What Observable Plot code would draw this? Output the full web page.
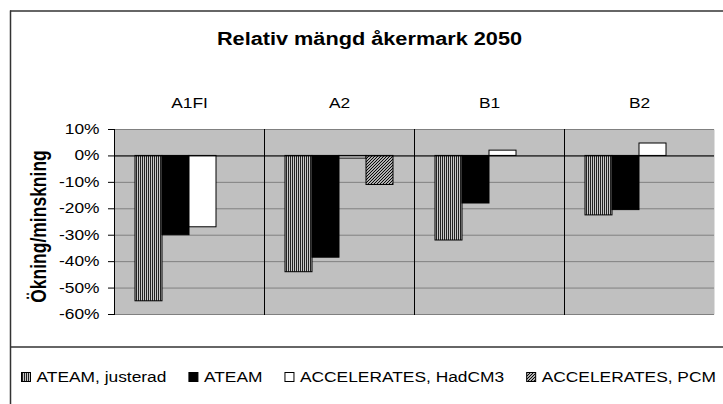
<!DOCTYPE html>
<html>
<head>
<meta charset="utf-8">
<script src="https://cdn.jsdelivr.net/npm/d3@7"></script>
<script src="https://cdn.jsdelivr.net/npm/@observablehq/plot@0.6"></script>
<style>
  html, body { margin: 0; padding: 0; background: #fff; }
  svg { display: block; }
</style>
</head>
<body>
<div id="chart"></div>
<script>
// ---- data ----
const titleText = "Relativ mängd åkermark 2050";
const yTitle = "Ökning/minskning";
const groups = ["A1FI", "A2", "B1", "B2"];
const series = ["ATEAM, justerad", "ATEAM", "ACCELERATES, HadCM3", "ACCELERATES, PCM"];
const ateamJusterad = [-0.55, -0.44, -0.32, -0.225];
const ateam = [-0.30, -0.385, -0.18, -0.205];
const hadcm3 = [-0.27, -0.01, 0.02, 0.047];
const pcm = [null, -0.11, null, null];
const yTicks = [0.1, 0, -0.1, -0.2, -0.3, -0.4, -0.5, -0.6];
const fills = ["url(#pStripe)", "#000000", "#ffffff", "url(#pHatch)"];

const seriesValues = [ateamJusterad, ateam, hadcm3, pcm];
const data = groups.flatMap((g, i) =>
  seriesValues.map((arr, j) => ({ group: g, series: series[j], value: arr[i] }))
).filter(d => d.value != null);

const FONT = "'Liberation Sans', Arial, Helvetica, sans-serif";
const SX = 1.24; // horizontal stretch of the reference's text

const svgNode = Plot.plot({
  width: 723,
  height: 404,
  marginLeft: 114,
  marginRight: 9,
  marginTop: 129,
  marginBottom: 90,
  style: { fontFamily: FONT, fontSize: "14px", color: "#000", background: "#fff", overflow: "visible" },
  fx: { domain: groups, padding: 0, axis: "top", label: null, tickSize: 0, tickPadding: 22 },
  x: { domain: series, paddingInner: 0, paddingOuter: 0.727, axis: null },
  y: { domain: [-0.6, 0.1], ticks: yTicks, tickFormat: d => `${Math.round(d * 100)}%`, tickSize: 6, tickPadding: 9, label: null },
  color: { domain: series, range: fills },
  marks: [
    Plot.frame({ fill: "#c0c0c0", stroke: null }),
    Plot.ruleY(yTicks, { stroke: "#808080", strokeWidth: 1 }),
    Plot.barY(data, { fx: "group", x: "series", y: "value", fill: "series", stroke: "#000", strokeWidth: 1, inset: 0 }),
    Plot.ruleY([0], { stroke: "#000", strokeWidth: 1 }),
    Plot.frame({ anchor: "left", stroke: "#000", strokeWidth: 1 })
  ]
});

document.getElementById("chart").appendChild(svgNode);
const svg = d3.select(svgNode);

// patterns
const defs = svg.insert("defs", ":first-child");
const ps = defs.append("pattern").attr("id", "pStripe").attr("patternUnits", "userSpaceOnUse")
  .attr("width", 2).attr("height", 4);
ps.append("rect").attr("width", 2).attr("height", 4).attr("fill", "#c8c8c8");
ps.append("rect").attr("width", 1).attr("height", 4).attr("fill", "#222");
const ph = defs.append("pattern").attr("id", "pHatch").attr("patternUnits", "userSpaceOnUse")
  .attr("width", 3).attr("height", 3);
ph.append("rect").attr("width", 3).attr("height", 3).attr("fill", "#fff");
ph.append("path").attr("d", "M-1,1 L1,-1 M0,3 L3,0 M2,4 L4,2").attr("stroke", "#000").attr("stroke-width", 1.2);

// outer frame lines
const deco = svg.append("g").attr("class", "deco").attr("text-anchor", "start");
deco.append("line").attr("x1", 10).attr("x2", 723).attr("y1", 11).attr("y2", 11).attr("stroke", "#333").attr("stroke-width", 1.5);
deco.append("line").attr("x1", 10.5).attr("x2", 10.5).attr("y1", 10.5).attr("y2", 404).attr("stroke", "#333").attr("stroke-width", 1.5);
deco.append("line").attr("x1", 10).attr("x2", 723).attr("y1", 347).attr("y2", 347).attr("stroke", "#333").attr("stroke-width", 1.5);

// title
deco.append("text").attr("x", 369.5).attr("y", 45)
  .attr("text-anchor", "middle").attr("font-family", FONT).attr("font-weight", "bold")
  .attr("font-size", 17.5).attr("fill", "#000").text(titleText);

// y title (rotated; the horizontal stretch thickens the glyphs)
deco.append("text").attr("transform", `translate(46,226.5) rotate(-90) scale(1,${SX})`)
  .attr("text-anchor", "middle").attr("font-family", FONT).attr("font-weight", "bold")
  .attr("font-size", 17.5).attr("fill", "#000").text(yTitle);

// legend
const lg = svg.append("g").attr("class", "legend").attr("text-anchor", "start");
let lx = 21;
series.forEach((s, i) => {
  lg.append("rect").attr("x", lx + 0.5).attr("y", 372.5).attr("width", 9).attr("height", 9)
    .attr("fill", fills[i]).attr("stroke", "#000").attr("stroke-width", 1);
  const t = lg.append("text").attr("x", lx + 15.5).attr("y", 382).attr("text-anchor", "start")
    .attr("font-family", FONT).attr("font-size", 14).attr("fill", "#000").text(s);
  const w = t.node().getComputedTextLength() * SX;
  lx = lx + 15.5 + w + 22;
});

// stretch horizontal texts
svgNode.querySelectorAll("text").forEach(t => {
  if (t.getAttribute("transform") && t.getAttribute("transform").includes("rotate")) return;
  const len = t.getComputedTextLength();
  if (len > 0) {
    t.setAttribute("textLength", (len * SX).toFixed(2));
    t.setAttribute("lengthAdjust", "spacingAndGlyphs");
  }
});
</script>
</body>
</html>
